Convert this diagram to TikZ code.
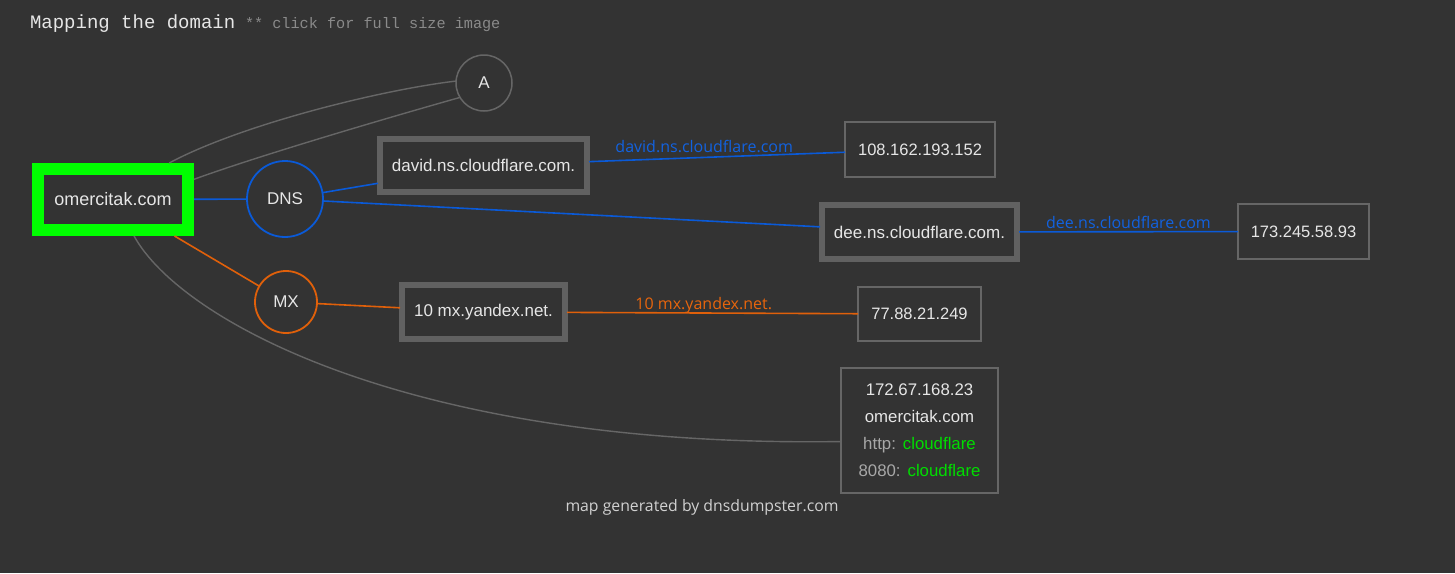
\documentclass[tikz,border=0pt]{standalone}
\usepackage{fontspec}
\setmainfont{Liberation Sans}
\newfontfamily\monof{Liberation Mono}
\newfontfamily\labf{Open Sans}
\definecolor{bg}{HTML}{333333}
\definecolor{txt}{HTML}{E6E6E6}
\definecolor{gline}{HTML}{666666}
\definecolor{gthick}{HTML}{616161}
\definecolor{grn}{HTML}{00FF00}
\definecolor{grntxt}{HTML}{00DD00}
\definecolor{blu}{HTML}{0A5AD8}
\definecolor{blutxt}{HTML}{1262E0}
\definecolor{org}{HTML}{E0600A}
\definecolor{orgtxt}{HTML}{E8650C}
\definecolor{ltgray}{HTML}{A8A8A8}
\definecolor{titlegray}{HTML}{8A8A8A}
\tikzset{
  every node/.style={inner sep=0pt, outer sep=0pt, text=txt},
  nodefont/.style={font=\fontsize{17}{20}\selectfont},
  ipfont/.style={font=\fontsize{16.5}{20}\selectfont},
  thinbox/.style={draw=gline, line width=1.5pt, rectangle, ipfont},
  thickbox/.style={draw=gthick, line width=6pt, rectangle, nodefont, outer sep=2pt},
  circ/.style={circle, line width=1.8pt, nodefont},
  gedge/.style={draw=gline, line width=1.4pt},
  bedge/.style={draw=blu, line width=1.6pt},
  oedge/.style={draw=org, line width=1.6pt},
  elab/.style={font=\labf\fontsize{16}{19}\selectfont},
}
\begin{document}
\begin{tikzpicture}[x=1pt,y=-1pt]
\fill[bg] (0,0) rectangle (1455,573);
\useasboundingbox (0,0) rectangle (1455,573);

% title
\node[anchor=base west, font=\monof\fontsize{19}{22}\selectfont] (title) at (30,28) {Mapping the domain};
\node[anchor=base west, text=titlegray, font=\monof\fontsize{15.2}{18}\selectfont] (sub) at (245,28) {** click for full size image};

% nodes
\node[draw=grn, line width=12pt, outer sep=6pt, minimum width=150pt, minimum height=61pt, font=\fontsize{18}{21}\selectfont] (om) at (113,199.5) {omercitak.com};
\node[circ, draw=gline, line width=1.5pt, minimum size=56pt] (A) at (484,83) {A};
\node[circ, draw=blu, minimum size=76pt] (dns) at (285,199) {DNS};
\node[circ, draw=org, minimum size=62pt] (mx) at (286,302) {MX};

\node[thickbox, minimum width=207pt, minimum height=53pt] (david) at (483.5,165.5) {david.ns.cloudflare.com.};
\node[thickbox, minimum width=195pt, minimum height=54pt] (dee) at (919.5,232) {dee.ns.cloudflare.com.};
\node[thickbox, minimum width=163pt, minimum height=54pt] (yandex) at (483.5,312) {10 mx.yandex.net.};

\node[thinbox, minimum width=150pt, minimum height=55pt] (ip1) at (920,149.5) {108.162.193.152};
\node[thinbox, minimum width=131pt, minimum height=55pt] (ip2) at (1303.5,231.5) {173.245.58.93};
\node[thinbox, minimum width=123pt, minimum height=54pt] (ip3) at (919.5,314) {77.88.21.249};
\node[thinbox, minimum width=157pt, minimum height=125pt, align=center, font=\fontsize{16.8}{27}\selectfont] (ip4) at (919.5,430.5)
  {172.67.168.23\\omercitak.com\\{\color{ltgray}http:}\hspace{7pt}{\color{grntxt}cloudflare}\\{\color{ltgray}8080:}\hspace{7pt}{\color{grntxt}cloudflare}};

% edges
\draw[gedge] (om.33) .. controls (240,125) and (380,90) .. (A.176);
\draw[gedge] (om.14) .. controls (255,157) and (380,120) .. (A.211);
\draw[gedge] (om.300) .. controls (180,320) and (410,448) .. (ip4.188);

\draw[bedge] (om) -- (dns);
\draw[bedge] (dns) -- (david);
\draw[bedge] (dns) -- (dee);
\draw[bedge] (david) -- node[pos=0.45, above=5pt, elab, text=blutxt] (l1) {david.ns.cloudflare.com} (ip1);
\draw[bedge] (dee) -- node[pos=0.5, above=3pt, elab, text=blutxt] (l2) {dee.ns.cloudflare.com} (ip2);

\draw[oedge] (om) -- (mx);
\draw[oedge] (mx) -- (yandex);
\draw[oedge] (yandex) -- node[pos=0.47, above=0pt, elab, text=orgtxt] (l3) {10 mx.yandex.net.} (ip3);

% footer
\node[text=txt!88!bg, font=\labf\fontsize{15.8}{18}\selectfont] (foot) at (702,507) {map generated by dnsdumpster.com};
\end{tikzpicture}
\end{document}
